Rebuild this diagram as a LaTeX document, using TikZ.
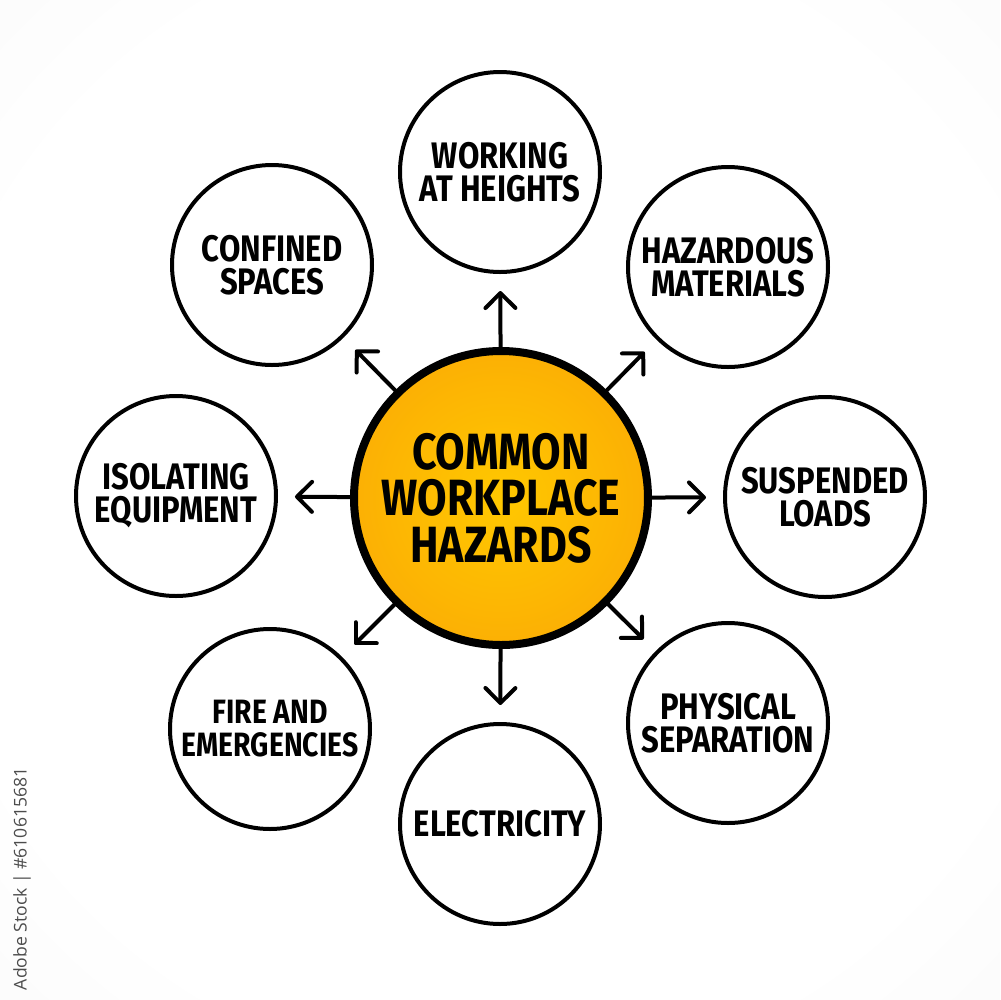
\documentclass[tikz,border=0pt]{standalone}
\usepackage{fontspec}
\setmainfont{Fira Sans}[FakeStretch=0.84]
\newfontfamily\idfont{Open Sans}
\usetikzlibrary{arrows.meta}
\definecolor{bgedge}{RGB}{236,236,236}
\definecolor{coreyellow}{RGB}{255,200,0}
\definecolor{coremid}{RGB}{252,176,4}
\definecolor{coreorange}{RGB}{246,148,10}
\pgfdeclareradialshading{bgshade}{\pgfpoint{0bp}{0bp}}{color(0bp)=(white); color(28bp)=(white); color(71bp)=(bgedge)}
\pgfdeclareradialshading{coreshade}{\pgfpoint{0bp}{0bp}}{color(0bp)=(coreyellow); color(25bp)=(coremid); color(48bp)=(coreorange); color(50bp)=(coreorange)}
\tikzset{
  topic/.style={circle, draw=black, line width=0.4mm, fill=white, minimum size=20mm, inner sep=0pt, align=center,
    font=\fontsize{10.5}{9.4}\selectfont\bfseries},
  core/.style={circle, draw=black, line width=0.8mm, minimum size=29.4mm, inner sep=0pt, align=center,
    shading=coreshade,
    font=\fontsize{14.5}{13.2}\selectfont\bfseries},
  arr/.style={line width=0.4mm, line cap=round, -{Straight Barb[length=1.5mm,width=3mm,line cap=round,round]}, shorten >=1.7mm}
}
\begin{document}
\begin{tikzpicture}[x=0.1mm,y=-0.1mm]
\shade[shading=bgshade] (0,0) rectangle (1000,1000);
\useasboundingbox (0,0) rectangle (1000,1000);

\node[core] (c) at (501,498) {COMMON\\WORKPLACE\\HAZARDS};

\node[topic] (t1) at (500,172) {WORKING\\AT HEIGHTS};
\node[topic] (t2) at (728,267) {HAZARDOUS\\MATERIALS};
\node[topic] (t3) at (825,497) {SUSPENDED\\LOADS};
\node[topic] (t4) at (728,723) {PHYSICAL\\SEPARATION};
\node[topic] (t5) at (500,824) {ELECTRICITY};
\node[topic, font=\fontsize{9.6}{9.4}\selectfont\bfseries] (t6) at (270,729) {FIRE AND\\EMERGENCIES};
\node[topic] (t7) at (176,496) {ISOLATING\\EQUIPMENT};
\node[topic] (t8) at (272,265) {CONFINED\\SPACES};

\foreach \t in {t1,t2,t3,t4,t5,t6,t7,t8}
  \draw[arr] (c) -- (\t);

\node[rotate=90, anchor=east, inner sep=0pt, text=black!70, font=\idfont\fontsize{5}{6}\selectfont] (id) at (22,767) {Adobe Stock | \#610615681};
\end{tikzpicture}
\end{document}
